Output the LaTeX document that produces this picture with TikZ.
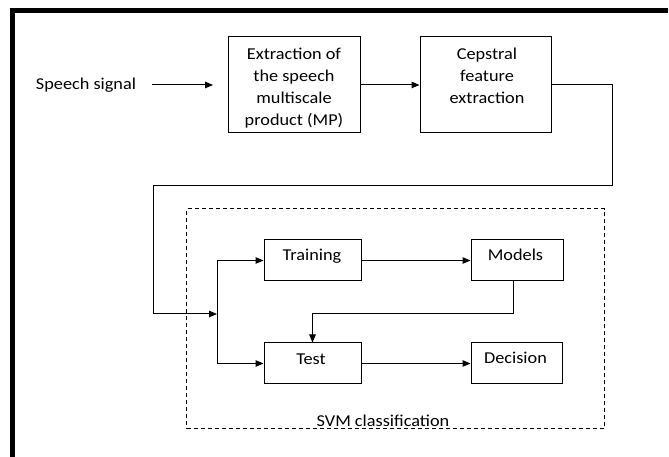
\documentclass[tikz,border=0pt]{standalone}
\usepackage{fontspec}
\setmainfont{Carlito}
\usetikzlibrary{arrows.meta}
\newcommand\hsc[1]{\scalebox{1.1}[1]{#1}}
\tikzset{
  box/.style={draw, line width=1pt, inner sep=0pt},
  txt/.style={font=\fontsize{16.6}{22}\selectfont, inner sep=0pt, anchor=base},
  arr/.style={line width=1pt, -{Triangle[length=8pt,width=6.5pt]}},
  ln/.style={line width=1pt},
}
\begin{document}
\begin{tikzpicture}[x=1pt,y=1pt]
\useasboundingbox (0,0) rectangle (669,457);
% outer thick frame (top and left)
\draw[line width=5pt, line join=miter] (668,446.5) -- (12.5,446.5) -- (12.5,0);

% boxes
\node[box, minimum width=132pt, minimum height=96pt] (b1) at (294,372) {};
\node[box, minimum width=131pt, minimum height=96pt] (b2) at (485.5,372) {};
\node[box, dashed, dash pattern=on 4pt off 3pt, minimum width=417.5pt, minimum height=220pt] (svm) at (395.25,138) {};
\node[box, minimum width=97pt, minimum height=41pt] (train) at (312.5,196.5) {};
\node[box, minimum width=92pt, minimum height=41pt] (models) at (517,196.5) {};
\node[box, minimum width=97pt, minimum height=41pt] (test) at (312.5,93.5) {};
\node[box, minimum width=91pt, minimum height=41pt] (dec) at (516.5,93.5) {};

% texts
\node[txt] (sp) at (86,367) {\hsc{Speech signal}};
\node[txt] (b1t) at (294,397.7) {\hsc{\begin{tabular}[t]{@{}c@{}}Extraction of\\the speech\\multiscale\\product (MP)\end{tabular}}};
\node[txt] (b2t) at (487,397.5) {\hsc{\begin{tabular}[t]{@{}c@{}}Cepstral\\feature\\extraction\end{tabular}}};
\node[txt] (traint) at (312,196.3) {\hsc{Training}};
\node[txt] (modelst) at (515.5,196.3) {\hsc{Models}};
\node[txt] (testt) at (311,92) {\hsc{Test}};
\node[txt] (dect) at (515.5,93) {\hsc{Decision}};
\node[txt] (svmt) at (383,30.5) {\hsc{SVM classification}};

% connectors
\coordinate (s1) at (152,372);
\coordinate (s2) at (213,372);
\draw[arr] (s1) -- (s2);
\draw[arr] (b1.east) -- (b2.west);
\coordinate (j) at (217,143);
\draw[arr] (b2.east) -- (612,372) -- (612,271) -- (153,271) -- (153,143) -- (j);
\draw[ln] (j |- train.west) -- (j |- test.west);
\draw[arr] (j |- train.west) -- (train.west);
\draw[arr] (j |- test.west) -- (test.west);
\draw[arr] (train.east) -- (models.west);
\draw[arr] ([xshift=-4pt]models.south) -- ++(0,-32.5) -| (test.north);
\draw[arr] (test.east) -- (dec.west);
\end{tikzpicture}
\end{document}
